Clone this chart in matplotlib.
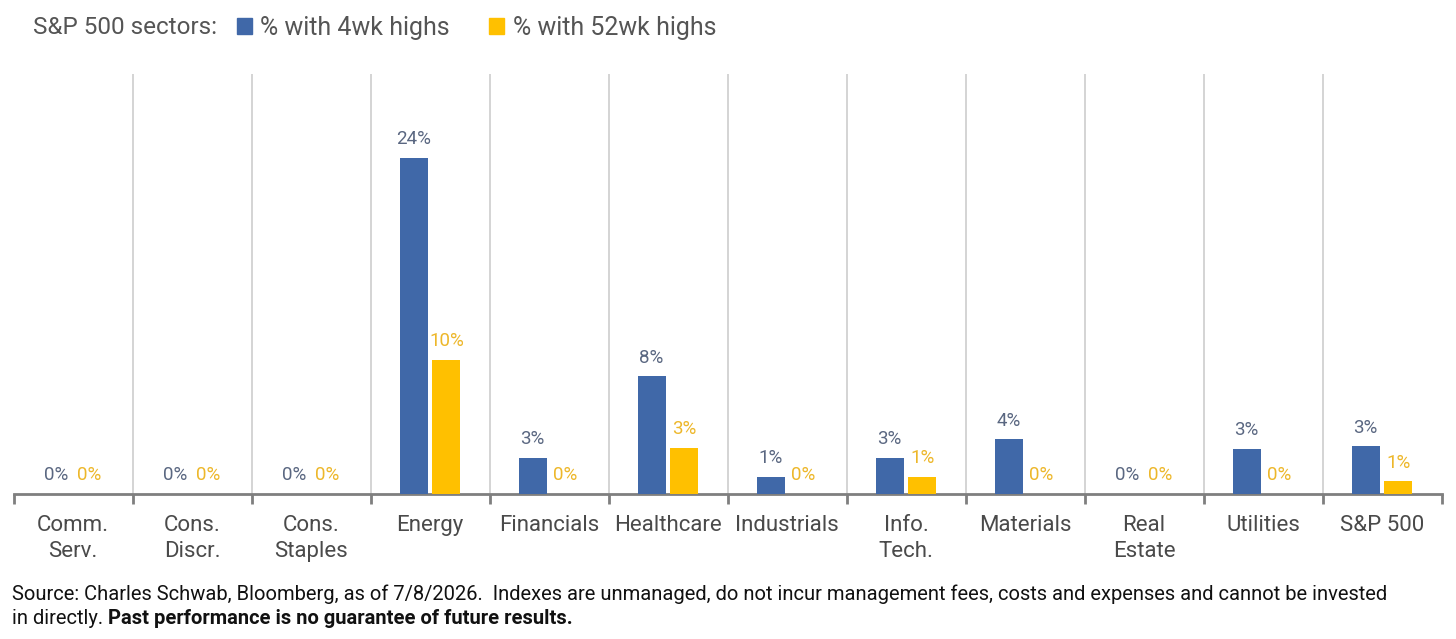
import numpy as np
import matplotlib
matplotlib.use("Agg")
import matplotlib.pyplot as plt
from matplotlib.patches import Patch

plt.rcParams['font.family'] = ['Roboto', 'DejaVu Sans']

# data (percent of members at highs)
sectors = ['Comm.\nServ.', 'Cons.\nDiscr.', 'Cons.\nStaples', 'Energy', 'Financials',
           'Healthcare', 'Industrials', 'Info.\nTech.', 'Materials', 'Real\nEstate',
           'Utilities', 'S&P 500']
highs_4wk = [0.0, 0.0, 0.0, 24.0, 2.6, 8.4, 1.2, 2.6, 3.9, 0.0, 3.2, 3.4]
highs_52wk = [0.0, 0.0, 0.0, 9.6, 0.0, 3.3, 0.0, 1.2, 0.0, 0.0, 0.0, 0.9]
series_names = ['% with 4wk highs', '% with 52wk highs']

blue = '#4068A8'
yellow = '#FFC000'
blue_txt = '#5A6781'
yellow_txt = '#EDB72A'
grey_txt = '#4A4A4A'

W, H = 1456, 639
fig = plt.figure(figsize=(W / 100, H / 100), dpi=100)
ax = fig.add_axes([13.5 / W, (H - 494) / H, (1441.5 - 13.5) / W, (494 - 74) / H])

x = np.arange(len(sectors))
bw = 0.235
off = 0.138
b1 = ax.bar(x - off, highs_4wk, bw, color=blue, zorder=3)
b2 = ax.bar(x + off, highs_52wk, bw, color=yellow, zorder=3)

ax.bar_label(b1, labels=[f'{v:.0f}%' for v in highs_4wk], padding=7,
             fontsize=13.5, color=blue_txt)
ax.bar_label(b2, labels=[f'{v:.0f}%' for v in highs_52wk], padding=7,
             fontsize=13.5, color=yellow_txt)

ax.set_xlim(-0.5, len(sectors) - 0.5)
ax.set_ylim(0, 30)

for b in np.arange(0.5, len(sectors) - 1, 1.0):
    ax.axvline(b, color='#C9C9C9', lw=1.1, zorder=1)

for s in ['top', 'left', 'right']:
    ax.spines[s].set_visible(False)
ax.spines['bottom'].set_color('#7F7F7F')
ax.spines['bottom'].set_linewidth(2)
ax.set_yticks([])

ax.set_xticks(x)
ax.set_xticklabels(sectors, fontsize=16, color=grey_txt, linespacing=1.35)
ax.tick_params(axis='x', which='major', length=0, pad=15)
ax.set_xticks(np.arange(-0.5, len(sectors), 1.0), minor=True)
ax.tick_params(axis='x', which='minor', length=7, width=2, color='#7F7F7F')

# header legend
fig.text(33 / W, 1 - 28 / H, 'S&P 500 sectors:', fontsize=17.5, color='#555555',
         va='center', ha='left')
handles = [Patch(color=blue), Patch(color=yellow)]
fig.legend(handles, series_names, loc='center left', bbox_to_anchor=(214 / W, 1 - 28 / H),
           ncol=2, frameon=False, fontsize=18, labelcolor='#555555',
           handlelength=0.6, handleheight=0.6, handletextpad=0.35, columnspacing=1.56)

# footnote
fs = 14.5
fig.text(12 / W, 1 - 594 / H,
         'Source: Charles Schwab, Bloomberg, as of 7/8/2026.  Indexes are unmanaged, do not incur '
         'management fees, costs and expenses and cannot be invested',
         fontsize=fs, color='#111111', va='center', ha='left')
t = fig.text(12 / W, 1 - 619 / H, 'in directly. ', fontsize=fs, color='#111111',
             va='center', ha='left')
r = fig.canvas.get_renderer()
bb = t.get_window_extent(r)
fig.text(bb.x1 / W, 1 - 619 / H, 'Past performance is no guarantee of future results.',
         fontsize=fs, color='#111111', va='center', ha='left', fontweight='bold')

fig.savefig('out.png', dpi=100)
